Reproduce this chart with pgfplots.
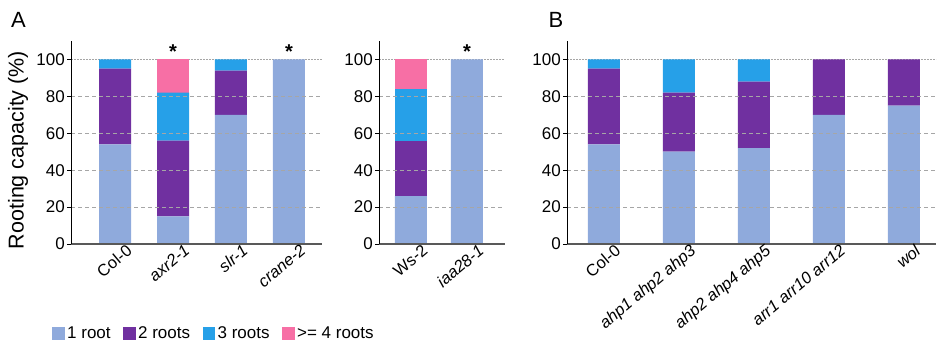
\documentclass[border=0pt]{standalone}
\usepackage{fontspec}
\setmainfont{Liberation Sans}
\usepackage{pgfplots}
\usepackage{pgfplotstable}
\pgfplotsset{compat=1.18}
\definecolor{c1}{HTML}{8FAADC}
\definecolor{c2}{HTML}{7030A0}
\definecolor{c3}{HTML}{26A0E8}
\definecolor{c4}{HTML}{F76FA5}

\pgfplotstableread{
x one two three four
0 54 41 5 0
1 15 41 26 18
2 70 24 6 0
3 100 0 0 0
}\tA
\pgfplotstableread{
x one two three four
0 26 30 28 16
1 100 0 0 0
}\tB
\pgfplotstableread{
x one two three
0 54 41 5
1 50 32 18
2 52 36 12
3 70 30 0
4 75 25 0
}\tC

\pgfplotsset{
 myax/.style={
  ybar stacked, scale only axis, height=203bp, ymin=0, ymax=110,
  bar width=32bp, clip=false,
  set layers, axis on top,
  axis x line=bottom, axis y line=left,
  x axis line style={-, draw=black!65, line width=1.6bp},
  y axis line style={-, draw=black, line width=1bp},
  ytick={0,20,40,60,80}, extra y ticks={100},
  ymajorgrids,
  grid style={/pgfplots/on layer=axis background, black!35, dash pattern=on 4bp off 3bp, line width=0.9bp},
  extra y tick style={grid style={/pgfplots/on layer=axis background, black!35, dash pattern=on 1.5bp off 1.5bp, line width=0.7bp},
     tick style={draw=black, line width=0.8bp}},
  major tick length=4bp, tick align=outside,
  xtick style={draw=none},
  ytick style={draw=black, line width=0.8bp},
  xtick=data,
  tick label style={font=\fontsize{17bp}{19bp}\selectfont},
  y tick label style={inner sep=2bp},
  x tick label style={font=\fontsize{16.5bp}{19bp}\selectfont, rotate=40, anchor=north east, inner sep=1bp, xshift=12bp, yshift=-2bp},
  /pgf/number format/assume math mode=true,
  anchor=south west,
  every axis plot/.append style={draw=none},
 },
 lg/.style={legend image code/.code={\fill[##1] (0bp,-6.5bp) rectangle (12.5bp,6bp);}},
}

\begin{document}
\begin{tikzpicture}

\begin{axis}[myax, at={(71bp,100bp)}, width=251bp, xmin=-0.76, xmax=3.57,
  xticklabels={Col-0,\textit{axr2-1},\textit{slr-1},\textit{crane-2}},
  legend columns=4,
  legend style={draw=none, fill=none, at={(-0.0757,-0.44)}, anchor=west,
    font=\fontsize{17bp}{19bp}\selectfont,
    nodes={inner sep=0.5bp},
    /tikz/every odd column/.append style={column sep=2bp},
    /tikz/every even column/.append style={column sep=12bp},
    inner sep=0pt},
  ]
\addplot[fill=c1, lg] table[x=x, y=one] {\tA};
\addplot[fill=c2, lg] table[x=x, y=two] {\tA};
\addplot[fill=c3, lg] table[x=x, y=three] {\tA};
\addplot[fill=c4, lg] table[x=x, y=four] {\tA};
\legend{1 root, 2 roots, 3 roots, >= 4 roots}
\node[font=\fontsize{20bp}{20bp}\selectfont\bfseries] at (axis cs:1,104.5) {*};
\node[font=\fontsize{20bp}{20bp}\selectfont\bfseries] at (axis cs:3,104.5) {*};
\end{axis}

\begin{axis}[myax, at={(379bp,100bp)}, width=126bp, xmin=-0.57, xmax=1.68,
  xticklabels={Ws-2,\textit{iaa28-1}}]
\addplot[fill=c1] table[x=x, y=one] {\tB};
\addplot[fill=c2] table[x=x, y=two] {\tB};
\addplot[fill=c3] table[x=x, y=three] {\tB};
\addplot[fill=c4] table[x=x, y=four] {\tB};
\node[font=\fontsize{20bp}{20bp}\selectfont\bfseries] at (axis cs:1,104.5) {*};
\end{axis}

\begin{axis}[myax, at={(567bp,100bp)}, width=369bp, xmin=-0.49, xmax=4.43,
  xticklabels={Col-0,\textit{ahp1 ahp2 ahp3},\textit{ahp2 ahp4 ahp5},\textit{arr1 arr10 arr12},\textit{wol}}]
\addplot[fill=c1] table[x=x, y=one] {\tC};
\addplot[fill=c2] table[x=x, y=two] {\tC};
\addplot[fill=c3] table[x=x, y=three] {\tC};
\end{axis}

\node[font=\fontsize{22bp}{22bp}\selectfont] at (18.5bp,324.5bp) {A};
\node[font=\fontsize{22bp}{22bp}\selectfont] at (556bp,324bp) {B};
\node[font=\fontsize{21.5bp}{22bp}\selectfont, rotate=90] at (18bp,194bp) {Rooting capacity (\%)};
\pgfresetboundingbox
\useasboundingbox (0,0) rectangle (937bp,344bp);
\end{tikzpicture}
\end{document}
